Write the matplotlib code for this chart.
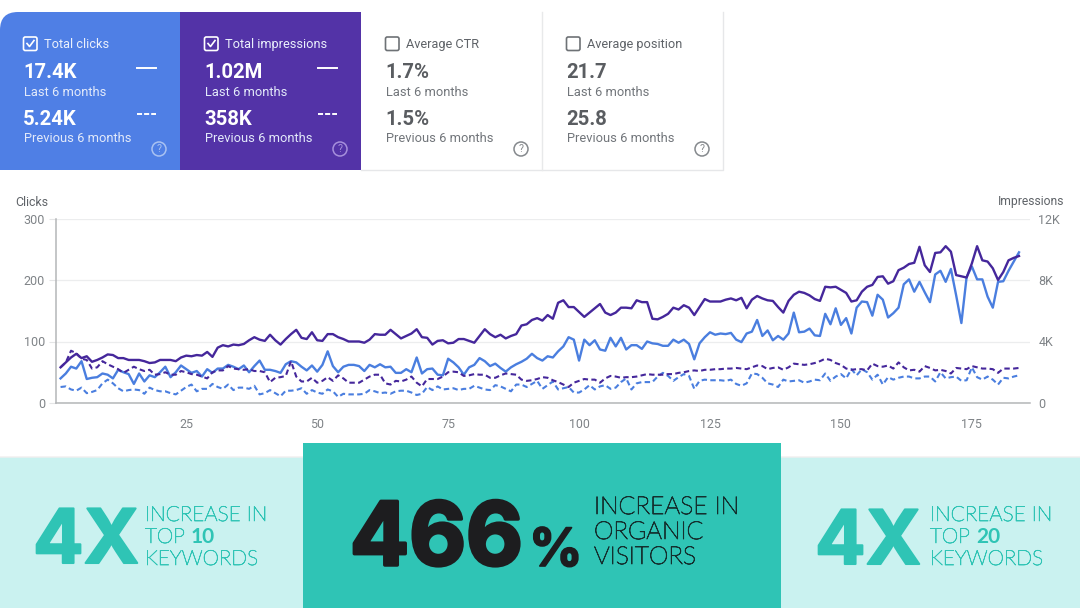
import numpy as np
import matplotlib
matplotlib.use('Agg')
import matplotlib.pyplot as plt
import matplotlib.patheffects as pe
from matplotlib.patches import Rectangle, FancyBboxPatch, Circle

# Series. Impressions are read against the left-hand gridlines
# (300 = 12K) and converted below.
clicks_last = [
    40, 48, 59, 56, 68, 39, 41, 42, 48, 46, 40, 54, 50, 47, 31, 48, 35, 45, 42, 50,
    59, 42, 50, 61, 55, 49, 52, 43, 55, 49, 56, 56, 62, 59, 55, 61, 50, 60, 69, 54,
    54, 52, 49, 63, 68, 66, 59, 53, 61, 51, 62, 84, 60, 50, 59, 62, 62, 60, 52, 62,
    58, 63, 58, 59, 49, 49, 55, 50, 74, 48, 55, 56, 46, 45, 72, 66, 58, 46, 58, 62,
    73, 68, 60, 64, 57, 51, 58, 63, 67, 72, 80, 73, 69, 76, 74, 84, 92, 107, 103, 69,
    103, 94, 102, 87, 85, 106, 92, 106, 87, 94, 94, 88, 100, 97, 96, 93, 93, 103, 98, 103,
    96, 71, 97, 107, 115, 111, 113, 112, 114, 103, 99, 113, 116, 135, 109, 118, 102, 109, 103, 113,
    147, 115, 116, 121, 110, 109, 145, 128, 154, 127, 138, 113, 155, 165, 164, 142, 176, 168, 139, 146,
    155, 193, 201, 181, 197, 180, 164, 209, 215, 197, 218, 175, 130, 205, 222, 201, 201, 173, 155, 197,
    198, 215, 230, 245,
]
clicks_prev = [
    26, 27, 22, 20, 25, 16, 18, 21, 32, 38, 32, 24, 19, 21, 22, 21, 15, 25, 21, 19,
    19, 16, 14, 20, 26, 30, 19, 23, 23, 31, 26, 23, 30, 21, 25, 25, 23, 28, 14, 16,
    21, 16, 11, 20, 20, 21, 24, 15, 21, 17, 15, 22, 19, 10, 15, 14, 14, 14, 15, 21,
    19, 16, 17, 15, 19, 20, 20, 17, 13, 15, 26, 21, 27, 22, 23, 24, 21, 23, 23, 28,
    25, 22, 21, 29, 27, 23, 19, 30, 30, 26, 31, 36, 23, 29, 35, 22, 24, 26, 17, 17,
    22, 29, 22, 27, 29, 23, 25, 34, 40, 22, 32, 34, 34, 34, 43, 49, 44, 36, 42, 47,
    44, 23, 36, 38, 37, 37, 37, 36, 38, 31, 28, 32, 48, 47, 41, 32, 30, 26, 38, 35,
    36, 37, 33, 35, 38, 37, 48, 36, 43, 47, 40, 55, 45, 55, 50, 38, 46, 30, 42, 38,
    41, 43, 43, 40, 40, 43, 43, 35, 50, 40, 42, 43, 36, 37, 58, 42, 38, 43, 38, 30,
    41, 40, 43, 45,
]
impressions_last = [
    58, 66, 74, 80, 73, 76, 67, 70, 74, 79, 78, 73, 73, 70, 70, 70, 68, 65, 66, 70,
    70, 70, 68, 74, 77, 76, 78, 77, 83, 75, 90, 94, 92, 95, 94, 96, 102, 107, 103, 101,
    111, 102, 95, 104, 112, 119, 106, 104, 115, 102, 101, 112, 112, 107, 104, 100, 100, 100, 98, 103,
    112, 111, 111, 119, 112, 105, 109, 113, 120, 107, 106, 95, 101, 102, 97, 98, 104, 104, 101, 98,
    109, 120, 112, 107, 111, 105, 109, 112, 126, 128, 135, 138, 134, 143, 137, 163, 167, 156, 156, 148,
    140, 147, 154, 161, 147, 143, 147, 155, 155, 154, 167, 164, 164, 137, 136, 140, 145, 155, 152, 159,
    155, 143, 156, 169, 165, 165, 165, 168, 170, 167, 171, 154, 168, 174, 170, 167, 166, 156, 147, 166,
    176, 181, 179, 175, 169, 166, 189, 188, 189, 184, 179, 165, 167, 181, 189, 192, 205, 206, 194, 198,
    216, 220, 226, 228, 254, 224, 213, 244, 245, 255, 246, 208, 206, 204, 227, 255, 232, 230, 219, 200,
    213, 232, 236, 239,
]
impressions_prev = [
    58, 66, 85, 81, 72, 70, 56, 58, 68, 63, 59, 55, 49, 54, 59, 55, 52, 54, 46, 47,
    50, 46, 46, 52, 50, 47, 46, 43, 40, 50, 53, 53, 60, 56, 55, 54, 55, 52, 52, 50,
    34, 41, 42, 44, 68, 43, 35, 35, 41, 33, 36, 42, 36, 45, 40, 33, 33, 33, 38, 43,
    46, 46, 32, 30, 36, 35, 38, 43, 33, 27, 39, 39, 39, 43, 50, 51, 50, 44, 45, 47,
    46, 46, 41, 41, 45, 48, 47, 46, 38, 36, 37, 39, 42, 41, 37, 34, 30, 26, 33, 36,
    39, 38, 38, 33, 40, 44, 43, 41, 42, 42, 43, 45, 47, 46, 46, 46, 47, 47, 49, 50,
    52, 53, 52, 54, 54, 55, 55, 56, 56, 57, 56, 55, 58, 61, 60, 55, 57, 58, 54, 58,
    64, 63, 62, 63, 65, 68, 72, 70, 65, 62, 56, 54, 55, 55, 53, 64, 60, 59, 61, 56,
    66, 58, 53, 54, 51, 60, 57, 53, 54, 52, 48, 57, 56, 55, 60, 58, 56, 56, 55, 49,
    56, 56, 56, 57,
]

x_ticks = [25, 50, 75, 100, 125, 150, 175]
clicks_ticks = [0, 100, 200, 300]
impressions_ticks = [0, 4000, 8000, 12000]
impressions_tick_labels = ['0', '4K', '8K', '12K']

card_titles = ['Total clicks', 'Total impressions', 'Average CTR', 'Average position']
card_last = ['17.4K', '1.02M', '1.7%', '21.7']
card_prev = ['5.24K', '358K', '1.5%', '25.8']

BLUE = '#4F7FE5'
PURPLE = '#5333A7'
LINE_BLUE = '#4A7EDF'
LINE_PURPLE = '#45279B'
TEAL = '#2FC4B5'
PALE_TEAL = '#CAF2F0'
DARK = '#1D1D1F'
GREY_TEXT = '#5F6368'
TICK_GREY = '#7F8387'

plt.rcParams['font.family'] = ['Roboto', 'DejaVu Sans']

fig = plt.figure(figsize=(10.8, 6.08), dpi=100, facecolor='white')

# background layer works in pixels, origin top-left
bg = fig.add_axes([0, 0, 1, 1])
bg.set_xlim(0, 1080)
bg.set_ylim(608, 0)
bg.axis('off')

bg.add_patch(Rectangle((0, 445), 1080, 163, color=PALE_TEAL, lw=0))
bg.add_patch(FancyBboxPatch((-30, -30), 1140, 487, boxstyle='round,pad=0,rounding_size=16',
                            fc='white', ec='#F1EFEF', lw=1))
bg.add_patch(Rectangle((303, 443), 478, 165, color=TEAL, lw=0))

# metric cards
bg.add_patch(FancyBboxPatch((0, 12), 60, 100, boxstyle='round,pad=0,rounding_size=18', fc=BLUE, ec='none'))
bg.add_patch(Rectangle((22, 12), 158, 158, color=BLUE, lw=0))
bg.add_patch(Rectangle((0, 40), 30, 130, color=BLUE, lw=0))
bg.add_patch(Rectangle((180, 12), 181, 158, color=PURPLE, lw=0))
bg.plot([361, 722.5, 722.5], [170, 170, 12], color='#E6E7E9', lw=1)
bg.plot([541.5, 541.5], [12, 170], color='#E8E9EA', lw=1)

card_x = [24, 205, 386, 567]
for i, x in enumerate(card_x):
    selected = i < 2
    title_col = '#EAF0FC' if selected else GREY_TEXT
    value_col = 'white' if selected else '#5A5D61'
    sub_col = '#E3EAFA' if selected else '#71757A'
    bg.add_patch(FancyBboxPatch((x - 0.5, 37), 13.5, 13.5, boxstyle='round,pad=0,rounding_size=1.8',
                                fc='none', ec='white' if selected else '#6E7276', lw=1.2))
    if selected:
        bg.plot([x + 3, x + 5.5, x + 10], [43.5, 46.5, 40.5], color='white', lw=1.2)
    bg.text(x + 20, 44.5, card_titles[i], color=title_col, fontsize=9.2, va='center')
    bg.text(x - 1, 73, card_last[i], color=value_col, fontsize=14.6, fontweight='bold', va='center')
    bg.text(x, 92.5, 'Last 6 months', color=sub_col, fontsize=9.3, va='center')
    bg.text(x - 1, 119.5, card_prev[i], color=value_col, fontsize=14.6, fontweight='bold', va='center')
    bg.text(x, 139, 'Previous 6 months', color=sub_col, fontsize=9.3, va='center')
    help_col = '#A9C2F2' if i == 0 else '#A68FDC' if i == 1 else '#85898D'
    bg.add_patch(Circle((x + 135, 149), 7, fc='none', ec=help_col, lw=1.1))
    bg.text(x + 135, 149.5, '?', color=help_col, fontsize=7.5, ha='center', va='center')
    if selected:
        bg.plot([x + 113, x + 132], [67.5, 67.5], color='white', lw=1.4)
        bg.plot([x + 113, x + 132], [113.5, 113.5], color='white', lw=1.4, dashes=(2.6, 1.05))

# chart
ax = fig.add_axes([56 / 1080, (608 - 403) / 608, 974 / 1080, 184.5 / 608])
ax.patch.set_alpha(0)
ax2 = ax.twinx()

days = np.arange(1, len(clicks_last) + 1)
impr_scale = 12000 / 300
ax2.plot(days, np.array(impressions_prev) * impr_scale, color=LINE_PURPLE, lw=1.5, dashes=(2.6, 1.6))
ax.plot(days, clicks_prev, color=LINE_BLUE, lw=1.5, dashes=(2.6, 1.6), zorder=3)
ax.plot(days, clicks_last, color=LINE_BLUE, lw=1.7, zorder=3)
ax2.plot(days, np.array(impressions_last) * impr_scale, color=LINE_PURPLE, lw=1.7)

ax.set_xlim(0.13, 186.1)
ax.set_ylim(0, 300)
ax2.set_ylim(0, 12000)
ax.set_xticks(x_ticks)
ax.set_yticks(clicks_ticks)
ax2.set_yticks(impressions_ticks)
ax2.set_yticklabels(impressions_tick_labels)
ax.grid(axis='y', color='#ECEDEE', lw=0.9)
ax.set_axisbelow(True)
for a in (ax, ax2):
    for side in ('top', 'right', 'left', 'bottom'):
        a.spines[side].set_visible(False)
ax.spines['left'].set_visible(True)
ax.spines['left'].set_color('#B4B6B8')
ax.spines['left'].set_linewidth(1.1)
ax.spines['bottom'].set_visible(True)
ax.spines['bottom'].set_color('#B4B6B8')
ax.spines['bottom'].set_linewidth(1.1)
ax.tick_params(axis='x', length=0, pad=11, labelsize=8.9, labelcolor=TICK_GREY)
ax.tick_params(axis='y', length=5, color='#E4E5E6', pad=3, labelsize=9, labelcolor=TICK_GREY)
ax2.tick_params(axis='y', length=0, pad=6, labelsize=9, labelcolor=TICK_GREY)
bg.text(15, 202, 'Clicks', color=GREY_TEXT, fontsize=8.9, va='center')
bg.text(1064, 202, 'Impressions', color=GREY_TEXT, fontsize=8.7, va='center', ha='right')

# banner stats
heavy = [pe.withStroke(linewidth=1.5, foreground=TEAL)]
bg.text(33, 563, '4X', color=TEAL, fontsize=54, fontweight='bold', family='Inter', va='baseline', path_effects=heavy)
bg.text(815, 564, '4X', color=TEAL, fontsize=54, fontweight='bold', family='Inter', va='baseline', path_effects=heavy)

# Lato light comes out as a hairline here, a thin stroke brings it up to the reference weight
thin_teal = [pe.withStroke(linewidth=0.5, foreground=TEAL)]
thin_dark = [pe.withStroke(linewidth=0.6, foreground='#14302F')]


def stat_text(x, bold):
    bg.text(x, 521, 'INCREASE IN', color=TEAL, fontsize=15, fontweight='light', family='Lato',
            va='baseline', path_effects=thin_teal)
    bg.text(x, 543, 'TOP', color=TEAL, fontsize=15, fontweight='light', family='Lato',
            va='baseline', path_effects=thin_teal)
    bg.text(x + 46, 543, bold, color=TEAL, fontsize=15, fontweight='bold', family='Lato', va='baseline')
    bg.text(x, 565, 'KEYWORDS', color=TEAL, fontsize=15, fontweight='light', family='Lato',
            va='baseline', path_effects=thin_teal)


stat_text(145, '10')
stat_text(930, '20')

heavy_dark = [pe.withStroke(linewidth=2.5, foreground=DARK)]
bg.text(350, 565, '466', color=DARK, fontsize=63, fontweight='bold', family='Inter', va='baseline', path_effects=heavy_dark)
bg.text(529, 566, '%', color=DARK, fontsize=38, fontweight='bold', family='Inter', va='baseline',
        path_effects=[pe.withStroke(linewidth=1.2, foreground=DARK)])
for y, line in zip([514, 539, 564], ['INCREASE IN', 'ORGANIC', 'VISITORS']):
    bg.text(594, y, line, color='#14302F', fontsize=17.8, fontweight='light', family='Lato',
            va='baseline', path_effects=thin_dark)

assert len(clicks_last) == len(clicks_prev) == len(impressions_last) == len(impressions_prev) == 184, \
    (len(clicks_last), len(clicks_prev), len(impressions_last), len(impressions_prev))

fig.savefig('out.png', dpi=100)
